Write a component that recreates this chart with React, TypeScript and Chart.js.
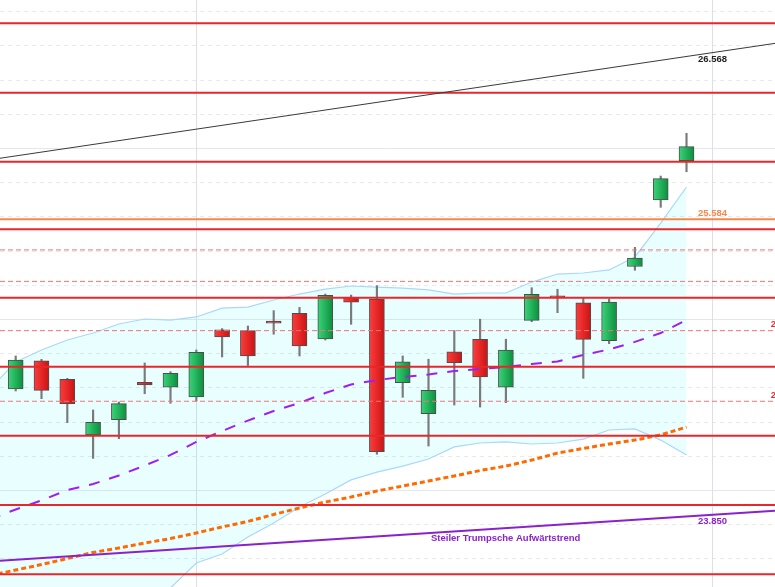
import React, { useEffect, useRef } from 'react';
import { Chart, registerables } from 'chart.js';

Chart.register(...registerables);

// ---------- axis ranges ----------
const X_MIN = -0.6085;
const X_MAX = 29.43;
const Y_MIN = 23.4328;
const Y_MAX = 26.8655;

// ---------- candles ----------
const candleIndex = [0, 1, 2, 3, 4, 5, 6, 7, 8, 9, 10, 11, 12, 13, 14, 15, 16, 17, 18, 19, 20, 21, 22, 23, 24, 25, 26];
const opens = [24.591, 24.756, 24.647, 24.322, 24.411, 24.630, 24.601, 24.544, 24.936, 24.932, 24.988, 25.033, 24.883, 25.127, 25.117, 24.628, 24.447, 24.808, 24.881, 24.602, 24.992, 25.136, 25.094, 24.873, 25.307, 25.696, 25.926];
const highs = [24.784, 24.764, 24.653, 24.468, 24.515, 24.743, 24.692, 24.819, 24.944, 24.959, 25.049, 25.068, 25.146, 25.140, 25.195, 24.784, 24.765, 24.933, 24.999, 24.882, 25.183, 25.174, 25.121, 25.117, 25.419, 25.836, 26.086];
const lows = [24.579, 24.534, 24.394, 24.185, 24.300, 24.563, 24.507, 24.520, 24.778, 24.728, 24.911, 24.784, 24.877, 24.969, 24.209, 24.542, 24.257, 24.497, 24.485, 24.511, 24.984, 25.037, 24.653, 24.856, 25.285, 25.653, 25.861];
const closes = [24.760, 24.583, 24.505, 24.396, 24.505, 24.614, 24.682, 24.805, 24.895, 24.784, 24.975, 24.842, 25.139, 25.098, 24.224, 24.749, 24.583, 24.744, 24.661, 24.819, 25.144, 25.125, 24.881, 25.099, 25.356, 25.821, 26.008];

// ---------- indicators (index -1 .. 26) ----------
const indIndex = [-1, 0, 1, 2, 3, 4, 5, 6, 7, 8, 9, 10, 11, 12, 13, 14, 15, 16, 17, 18, 19, 20, 21, 22, 23, 24, 25, 26];
const upperBand = [24.591, 24.749, 24.819, 24.877, 24.918, 24.971, 25.000, 24.994, 25.012, 25.064, 25.070, 25.111, 25.146, 25.175, 25.193, 25.187, 25.181, 25.170, 25.146, 25.152, 25.152, 25.216, 25.263, 25.269, 25.287, 25.363, 25.561, 25.772];
const lowerBand = [22.421, 22.538, 22.655, 22.772, 22.889, 23.035, 23.211, 23.427, 23.573, 23.626, 23.725, 23.807, 23.901, 23.977, 24.059, 24.105, 24.140, 24.181, 24.252, 24.275, 24.281, 24.269, 24.275, 24.298, 24.351, 24.357, 24.292, 24.205];
const maPurple = [23.830, 23.886, 23.939, 24.000, 24.035, 24.085, 24.143, 24.205, 24.281, 24.345, 24.406, 24.462, 24.509, 24.567, 24.617, 24.643, 24.661, 24.675, 24.696, 24.708, 24.719, 24.737, 24.751, 24.790, 24.822, 24.866, 24.918, 24.994];
const maOrange = [23.500, 23.532, 23.564, 23.599, 23.635, 23.661, 23.690, 23.716, 23.749, 23.784, 23.816, 23.857, 23.895, 23.930, 23.959, 23.994, 24.023, 24.053, 24.082, 24.114, 24.140, 24.175, 24.216, 24.243, 24.269, 24.292, 24.322, 24.368];

// ---------- horizontal levels ----------
const redSolidLevels = [26.729, 26.323, 25.920, 25.525, 25.125, 24.721, 24.318, 23.912, 23.507];
const redDashedLevels = [25.404, 25.220, 24.932, 24.519];
const orangeLevel = 25.584;

// ---------- trend lines (values at X_MIN and X_MAX) ----------
const trendX = [X_MIN, X_MAX];
const blackTrendY = [25.940, 26.612];
const purpleTrendY = [23.587, 23.878];

// ---------- grid ----------
const gridStep = 0.2;
const gridMajor = [24, 25, 26];
const verticalGridIndex = [7, 27];

// ---------- texts ----------
const labelBlack = '26.568';
const labelOrange = '25.584';
const labelPurple = '23.850';
const labelsRed = ['24.932', '24.519'];
const trendText = 'Steiler Trumpsche Aufwärtstrend';

const FONT = 'bold 9.5px "Liberation Sans", Arial, sans-serif';

function hLine(v: number) {
  return [{ x: X_MIN, y: v }, { x: X_MAX, y: v }];
}

const gridPlugin = {
  id: 'customGrid',
  beforeDatasetsDraw(chart: any) {
    const { ctx, chartArea, scales } = chart;
    const ys = scales.y;
    const xs = scales.x;
    ctx.save();
    ctx.lineWidth = 1;
    const start = Math.ceil(Y_MIN / gridStep);
    const end = Math.floor(Y_MAX / gridStep);
    for (let k = start; k <= end; k++) {
      const v = k * gridStep;
      const isMajor = gridMajor.some((m) => Math.abs(m - v) < 1e-6);
      const py = Math.round(ys.getPixelForValue(v)) + 0.5;
      ctx.beginPath();
      if (isMajor) {
        ctx.setLineDash([]);
        ctx.strokeStyle = '#e6e6f0';
      } else {
        ctx.setLineDash([4, 4]);
        ctx.strokeStyle = '#e9e9e9';
      }
      ctx.moveTo(chartArea.left, py);
      ctx.lineTo(chartArea.right, py);
      ctx.stroke();
    }
    ctx.setLineDash([]);
    ctx.strokeStyle = '#dedeea';
    verticalGridIndex.forEach((i) => {
      const px = Math.round(xs.getPixelForValue(i)) + 0.5;
      ctx.beginPath();
      ctx.moveTo(px, chartArea.top);
      ctx.lineTo(px, chartArea.bottom);
      ctx.stroke();
    });
    ctx.restore();
  },
};

const labelPlugin = {
  id: 'customLabels',
  afterDatasetsDraw(chart: any) {
    const { ctx, scales } = chart;
    const xs = scales.x;
    const ys = scales.y;
    ctx.save();
    ctx.font = FONT;
    ctx.textAlign = 'left';
    ctx.textBaseline = 'alphabetic';
    const lx = xs.getPixelForValue(26.446);
    ctx.fillStyle = '#222222';
    ctx.fillText(labelBlack, lx, ys.getPixelForValue(parseFloat(labelBlack)) + 11.6);
    ctx.fillStyle = '#f5884a';
    ctx.fillText(labelOrange, lx, ys.getPixelForValue(orangeLevel) - 2.7);
    ctx.fillStyle = '#8a22cc';
    ctx.fillText(labelPurple, lx, ys.getPixelForValue(parseFloat(labelPurple)) + 8.4);
    ctx.fillStyle = '#e83030';
    const rx = xs.getPixelForValue(29.27);
    labelsRed.forEach((t, k) => {
      ctx.fillText(t, rx, ys.getPixelForValue(redDashedLevels[2 + k]) - 3.2);
    });
    const tIdx = 16.097;
    const frac = (tIdx - X_MIN) / (X_MAX - X_MIN);
    const tv = purpleTrendY[0] + (purpleTrendY[1] - purpleTrendY[0]) * frac;
    ctx.fillStyle = '#8a22cc';
    ctx.fillText(trendText, xs.getPixelForValue(tIdx), ys.getPixelForValue(tv) + 8.3);
    ctx.restore();
  },
};

function bodyColor(c: any) {
  const i = c.dataIndex;
  if (c.type !== 'data' || i === undefined) return '#22aa55';
  const up = closes[i] >= opens[i];
  const flat = up ? '#22aa55' : '#ee2222';
  const chart = c.chart;
  const xs = chart.scales && chart.scales.x;
  if (!xs) return flat;
  const px = xs.getPixelForValue(candleIndex[i]);
  if (!Number.isFinite(px)) return flat;
  const g = chart.ctx.createLinearGradient(px - 7.5, 0, px + 7.5, 0);
  if (up) {
    g.addColorStop(0, '#3ad47a');
    g.addColorStop(1, '#0c8f3c');
  } else {
    g.addColorStop(0, '#ff3c3c');
    g.addColorStop(1, '#c81414');
  }
  return g;
}

export default function App() {
  const ref = useRef<HTMLCanvasElement | null>(null);

  useEffect(() => {
    if (!ref.current) return;
    const lineBase = {
      type: 'line' as const,
      pointRadius: 0,
      tension: 0,
      fill: false,
    };
    const datasets: any[] = [
      {
        ...lineBase,
        data: indIndex.map((x, k) => ({ x, y: upperBand[k] })),
        borderColor: '#a8d8fa',
        borderWidth: 1.2,
        fill: '+1',
        backgroundColor: 'rgba(0, 240, 255, 0.085)',
        order: 20,
      },
      {
        ...lineBase,
        data: indIndex.map((x, k) => ({ x, y: lowerBand[k] })),
        borderColor: '#a8d8fa',
        borderWidth: 1.2,
        order: 19,
      },
      {
        type: 'bar',
        data: candleIndex.map((x, k) => ({ x, y: [lows[k], highs[k]] })),
        backgroundColor: '#7a7a7a',
        barThickness: 1.5,
        grouped: false,
        order: 15,
      },
      {
        type: 'bar',
        data: candleIndex.map((x, k) => ({ x, y: [opens[k], closes[k]] })),
        backgroundColor: bodyColor,
        borderColor: '#4d4d4d',
        borderWidth: 1,
        borderSkipped: false,
        barThickness: 15,
        grouped: false,
        order: 14,
      },
      {
        ...lineBase,
        data: indIndex.map((x, k) => ({ x, y: maPurple[k] })),
        borderColor: '#9d1ff2',
        borderWidth: 2,
        borderDash: [11, 10],
        order: 5,
      },
      {
        ...lineBase,
        data: indIndex.map((x, k) => ({ x, y: maOrange[k] })),
        borderColor: '#ff6a00',
        borderWidth: 3,
        borderDash: [5, 3],
        order: 5,
      },
      ...redSolidLevels.map((v) => ({
        ...lineBase,
        data: hLine(v),
        borderColor: '#e8262b',
        borderWidth: 2,
        order: 4,
      })),
      ...redDashedLevels.map((v) => ({
        ...lineBase,
        data: hLine(v),
        borderColor: '#f07474',
        borderWidth: 1,
        borderDash: [5, 3],
        order: 4,
      })),
      {
        ...lineBase,
        data: hLine(orangeLevel),
        borderColor: '#f5884a',
        borderWidth: 2,
        order: 3,
      },
      {
        ...lineBase,
        data: trendX.map((x, k) => ({ x, y: blackTrendY[k] })),
        borderColor: '#3a3a3a',
        borderWidth: 1,
        order: 2,
      },
      {
        ...lineBase,
        data: trendX.map((x, k) => ({ x, y: purpleTrendY[k] })),
        borderColor: '#8a22cc',
        borderWidth: 2,
        order: 2,
      },
    ];

    const chart = new Chart(ref.current, {
      type: 'line',
      data: { datasets },
      options: {
        animation: false,
        responsive: false,
        maintainAspectRatio: false,
        events: [],
        layout: { padding: 0 },
        plugins: {
          legend: { display: false },
          tooltip: { enabled: false },
          title: { display: false },
        },
        scales: {
          x: { type: 'linear', min: X_MIN, max: X_MAX, display: false, offset: false },
          y: { type: 'linear', min: Y_MIN, max: Y_MAX, display: false },
        },
      },
      plugins: [gridPlugin, labelPlugin],
    } as any);
    return () => chart.destroy();
  }, []);

  return (
    <div style={{ position: 'fixed', left: 0, top: 0, width: 775, height: 587, background: '#ffffff' }}>
      <canvas ref={ref} width={775} height={587} style={{ display: 'block', width: 775, height: 587 }} />
    </div>
  );
}
